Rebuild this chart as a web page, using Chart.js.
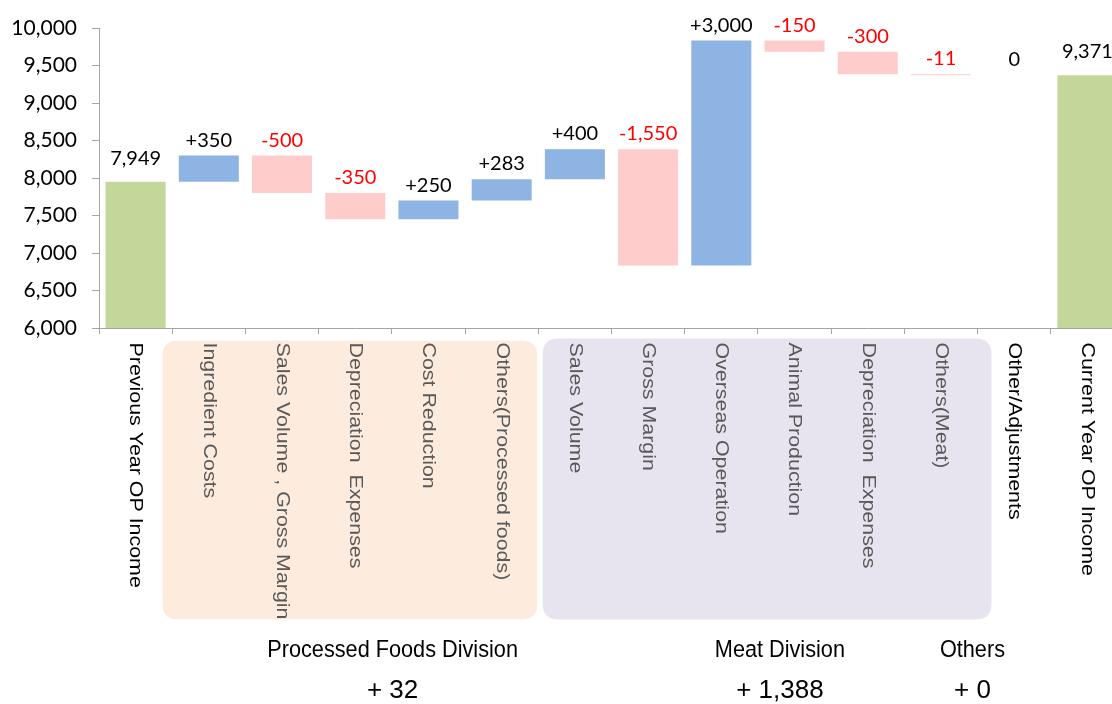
<!DOCTYPE html>
<html>
<head>
<meta charset="utf-8">
<script src="https://cdn.jsdelivr.net/npm/chart.js@4.4.1/dist/chart.umd.min.js"></script>
<style>
  html, body { margin: 0; padding: 0; background: #fff; overflow: hidden; width: 1112px; height: 704px; }
  #c { display: block; }
</style>
</head>
<body>
<canvas id="c" width="1130" height="704"></canvas>
<script>
// ---------- data ----------
const categories = [
  'Previous Year OP Income',
  'Ingredient Costs',
  'Sales Volume , Gross Margin',
  'Depreciation  Expenses',
  'Cost Reduction',
  'Others(Processed foods)',
  'Sales Volume',
  'Gross Margin',
  'Overseas Operation',
  'Animal Production',
  'Depreciation  Expenses',
  'Others(Meat)',
  'Other/Adjustments',
  'Current Year OP Income'
];
const startValue = 7949;
const changes = [350, -500, -350, 250, 283, 400, -1550, 3000, -150, -300, -11, 0];
const endValue = 9371;
const processedFoodsIdx = [1, 2, 3, 4, 5];
const meatIdx = [6, 7, 8, 9, 10, 11];
const groupNames = ['Processed Foods Division', 'Meat Division', 'Others'];
const groupTotals = ['+ 32', '+ 1,388', '+ 0'];
const yMin = 6000, yMax = 10000, yStep = 500;

// ---------- build waterfall table ----------
const floating = [];
const kinds = [];
const labelValues = [];
floating.push([yMin, startValue]); kinds.push('total'); labelValues.push(startValue);
let run = startValue;
changes.forEach(c => {
  floating.push([run, run + c]);
  kinds.push(c > 0 ? 'up' : (c < 0 ? 'down' : 'zero'));
  labelValues.push(c);
  run += c;
});
floating.push([yMin, endValue]); kinds.push('total'); labelValues.push(endValue);

const colorOf = { total: '#C4D79B', up: '#8EB4E3', down: '#FFCCCC', zero: 'rgba(0,0,0,0)' };
const fmt = v => Math.abs(v).toLocaleString('en-US');

function roundRect(ctx, x, y, w, h, r) {
  ctx.beginPath();
  ctx.moveTo(x + r, y);
  ctx.lineTo(x + w - r, y);
  ctx.quadraticCurveTo(x + w, y, x + w, y + r);
  ctx.lineTo(x + w, y + h - r);
  ctx.quadraticCurveTo(x + w, y + h, x + w - r, y + h);
  ctx.lineTo(x + r, y + h);
  ctx.quadraticCurveTo(x, y + h, x, y + h - r);
  ctx.lineTo(x, y + r);
  ctx.quadraticCurveTo(x, y, x + r, y);
  ctx.closePath();
}

const decor = {
  id: 'decor',
  beforeDraw(chart) {
    const ctx = chart.ctx, xs = chart.scales.x;
    const cw = (xs.right - xs.left) / categories.length;
    const ux = u => xs.left + u * cw;
    ctx.save();
    ctx.fillStyle = '#FDEBDD';
    roundRect(ctx, ux(0.866), 340.5, ux(5.985) - ux(0.866), 279, 16);
    ctx.fill();
    ctx.fillStyle = '#E7E4EF';
    roundRect(ctx, ux(6.06), 338.5, ux(12.19) - ux(6.06), 281, 16);
    ctx.fill();
    ctx.restore();
  },
  afterDatasetsDraw(chart) {
    const ctx = chart.ctx, xs = chart.scales.x, ys = chart.scales.y;
    ctx.save();
    ctx.font = '20px Lato';
    ctx.textAlign = 'center';
    ctx.textBaseline = 'alphabetic';
    labelValues.forEach((v, i) => {
      const top = Math.max(floating[i][0], floating[i][1]);
      const x = xs.getPixelForValue(i);
      const gap = kinds[i] === 'total' ? 17 : 9;
      const y = ys.getPixelForValue(top) - gap;
      let txt;
      if (kinds[i] === 'total') txt = fmt(v);
      else if (v > 0) txt = '+' + fmt(v);
      else if (v < 0) txt = '-' + fmt(v);
      else txt = '0';
      ctx.fillStyle = v < 0 ? '#FF0000' : '#000000';
      ctx.fillText(txt, x, y);
    });
    ctx.restore();
  },
  afterDraw(chart) {
    const ctx = chart.ctx, xs = chart.scales.x;
    const cw = (xs.right - xs.left) / categories.length;
    const ux = u => xs.left + u * cw;
    // rotated category labels
    ctx.save();
    ctx.beginPath();
    ctx.rect(0, 330, chart.width, 289);
    ctx.clip();
    categories.forEach((c, i) => {
      const x = xs.getPixelForValue(i);
      const inGroup = processedFoodsIdx.includes(i) || meatIdx.includes(i);
      ctx.save();
      ctx.translate(x, 342.5);
      ctx.rotate(Math.PI / 2);
      ctx.scale(1, 0.87);
      ctx.font = '21.4px "Liberation Sans", Arial, sans-serif';
      ctx.textAlign = 'left';
      ctx.textBaseline = 'middle';
      ctx.fillStyle = inGroup ? '#595959' : '#000000';
      ctx.fillText(c, 0, 0);
      ctx.restore();
    });
    ctx.restore();
    // group names & totals
    const gx = [ux(4.01), ux(9.30), ux(11.93)];
    ctx.save();
    ctx.fillStyle = '#000';
    ctx.textAlign = 'center';
    ctx.textBaseline = 'alphabetic';
    groupNames.forEach((g, k) => {
      ctx.save();
      ctx.translate(gx[k], 657);
      ctx.scale(1, 1.1);
      ctx.font = '21.7px "Liberation Sans", Arial, sans-serif';
      ctx.fillText(g, 0, 0);
      ctx.restore();
      ctx.font = '26px "Liberation Sans", Arial, sans-serif';
      ctx.fillText(groupTotals[k], gx[k], 698);
    });
    ctx.restore();
  }
};

const yTickValues = [];
for (let v = yMin; v <= yMax; v += yStep) yTickValues.push(v);

new Chart(document.getElementById('c'), {
  type: 'bar',
  data: {
    labels: categories,
    datasets: [{
      data: floating,
      backgroundColor: kinds.map(k => colorOf[k]),
      borderWidth: 0,
      barPercentage: 0.82,
      categoryPercentage: 1.0
    }]
  },
  options: {
    responsive: false,
    devicePixelRatio: 1,
    animation: false,
    layout: { padding: { top: 28, right: 6, left: 0, bottom: 0 } },
    plugins: { legend: { display: false }, tooltip: { enabled: false } },
    scales: {
      x: {
        offset: true,
        grid: { display: true, drawOnChartArea: false, drawTicks: true, tickLength: 6, color: '#A6A6A6', offset: true },
        border: { display: true, color: '#A6A6A6', width: 1 },
        ticks: { display: false },
        afterFit(s) { s.height = 376; }
      },
      y: {
        min: yMin, max: yMax,
        grid: { display: true, drawOnChartArea: false, drawTicks: true, tickLength: 7, color: '#A6A6A6' },
        border: { display: true, color: '#A6A6A6', width: 1 },
        afterBuildTicks(s) { s.ticks = yTickValues.map(v => ({ value: v })); },
        ticks: {
          color: '#000',
          padding: 15,
          font: { family: 'Lato', size: 21 },
          callback: v => v.toLocaleString('en-US')
        },
        afterFit(s) { s.width = 99; }
      }
    }
  },
  plugins: [decor]
});
</script>
</body>
</html>
